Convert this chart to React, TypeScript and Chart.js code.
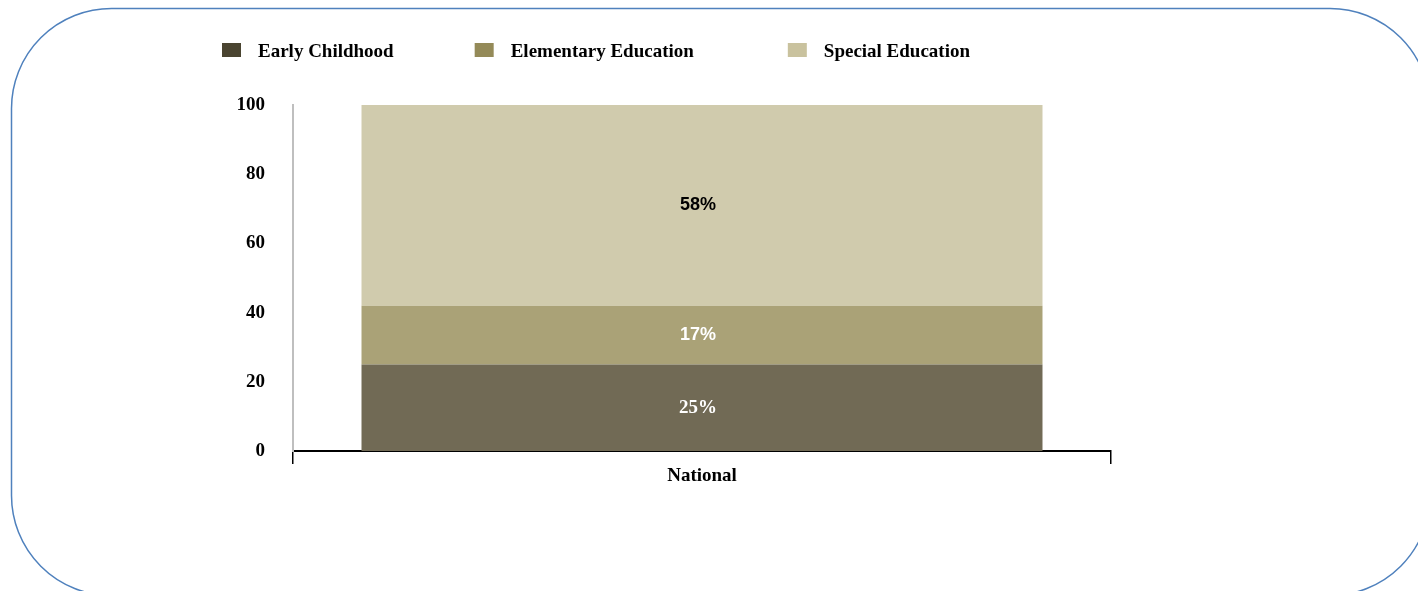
import React, { useEffect, useRef } from "react";
import { Chart, registerables } from "chart.js";

Chart.register(...registerables);

// ---- data ----
const categories = ["National"];
const seriesNames = ["Early Childhood", "Elementary Education", "Special Education"];
const earlyChildhood = [25];
const elementaryEducation = [17];
const specialEducation = [58];
const yTickValues = [0, 20, 40, 60, 80, 100];

// ---- styles ----
const barColors = ["#716A55", "#AAA277", "#D0CBAD"];
const legendColors = ["#4A4430", "#948A58", "#C9C29E"];
const labelColors = ["#FFFFFF", "#FFFFFF", "#000000"];
const SERIF = '"Times New Roman", "Liberation Serif", serif';
const SANS = 'Arial, "Liberation Sans", sans-serif';
const labelFonts = [`bold 19px ${SERIF}`, `bold 18px ${SANS}`, `bold 18px ${SANS}`];
const legendGaps = [81, 94, 0];

const framePlugin = {
  id: "frame",
  beforeDraw(chart: any) {
    const ctx = chart.ctx;
    ctx.save();
    ctx.beginPath();
    ctx.roundRect(11.5, 8.5, 1418.5, 587, 100);
    ctx.strokeStyle = "#4F81BD";
    ctx.lineWidth = 1.5;
    ctx.stroke();
    ctx.restore();
  },
};

const legendPlugin = {
  id: "customLegend",
  afterDraw(chart: any) {
    const ctx = chart.ctx;
    ctx.save();
    ctx.font = `bold 19px ${SERIF}`;
    ctx.textBaseline = "alphabetic";
    ctx.textAlign = "left";
    let x = chart.chartArea.left - 71;
    seriesNames.forEach((name, i) => {
      ctx.fillStyle = legendColors[i];
      ctx.fillRect(x, 43, 19, 14);
      ctx.fillStyle = "#000000";
      ctx.fillText(name, x + 36, 57);
      x += 36 + ctx.measureText(name).width + legendGaps[i];
    });
    ctx.restore();
  },
};

const valueLabelPlugin = {
  id: "valueLabels",
  afterDatasetsDraw(chart: any) {
    const ctx = chart.ctx;
    ctx.save();
    ctx.textAlign = "center";
    ctx.textBaseline = "middle";
    chart.data.datasets.forEach((ds: any, i: number) => {
      const meta = chart.getDatasetMeta(i);
      meta.data.forEach((bar: any, j: number) => {
        const p = bar.getCenterPoint();
        ctx.font = labelFonts[i];
        ctx.fillStyle = labelColors[i];
        ctx.fillText(`${ds.data[j]}%`, p.x - 4, p.y);
      });
    });
    ctx.restore();
  },
};

export default function App() {
  const ref = useRef<HTMLCanvasElement>(null);

  useEffect(() => {
    const values = [earlyChildhood, elementaryEducation, specialEducation];
    const chart = new Chart(ref.current as HTMLCanvasElement, {
      type: "bar",
      data: {
        labels: categories,
        datasets: seriesNames.map((name, i) => ({
          label: name,
          data: values[i],
          backgroundColor: barColors[i],
          borderWidth: 0,
          barPercentage: 0.8325,
          categoryPercentage: 1,
          stack: "s",
        })),
      },
      options: {
        animation: false,
        responsive: false,
        devicePixelRatio: 1,
        layout: { padding: { top: 105, left: 150, right: 307, bottom: 100 } },
        plugins: {
          legend: { display: false },
          tooltip: { enabled: false },
          title: { display: false },
        },
        scales: {
          x: {
            stacked: true,
            offset: true,
            afterFit: (s: any) => {
              s.height = 40;
            },
            grid: {
              display: true,
              offset: true,
              drawOnChartArea: false,
              drawTicks: true,
              tickLength: 13,
              color: "#000000",
              lineWidth: 1.5,
            },
            border: { display: true, color: "#000000", width: 2 },
            ticks: {
              color: "#000000",
              padding: 1,
              font: { family: SERIF, size: 19, weight: "bold" },
            },
          },
          y: {
            stacked: true,
            min: 0,
            max: 100,
            afterFit: (s: any) => {
              s.width = 143;
            },
            afterBuildTicks: (s: any) => {
              s.ticks = yTickValues.map((v) => ({ value: v }));
            },
            grid: { display: false, drawTicks: false },
            border: { display: true, color: "#BFBFBF", width: 2 },
            ticks: {
              color: "#000000",
              padding: 28,
              font: { family: SERIF, size: 19, weight: "bold" },
            },
          },
        },
      },
      plugins: [framePlugin, legendPlugin, valueLabelPlugin],
    } as any);
    return () => chart.destroy();
  }, []);

  return (
    <div style={{ position: "absolute", left: 0, top: 0, width: 1418, height: 591 }}>
      <canvas ref={ref} width={1418} height={591} style={{ display: "block" }} />
    </div>
  );
}
